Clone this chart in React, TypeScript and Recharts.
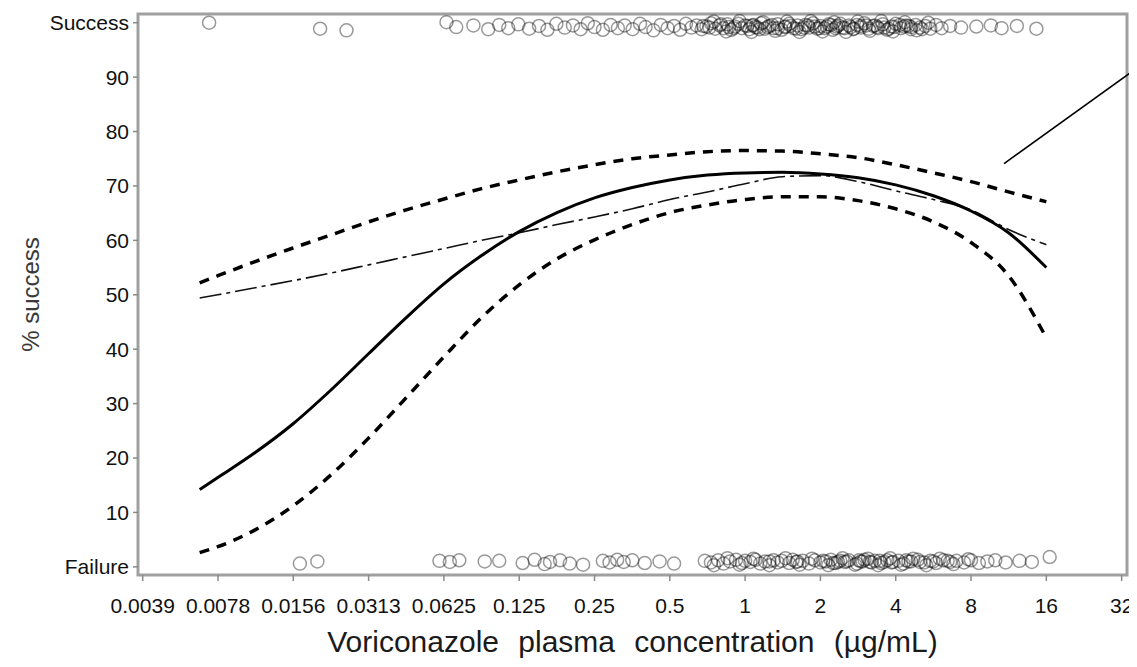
import React from 'react';
import {
  ComposedChart,
  Line,
  Scatter,
  XAxis,
  YAxis,
  ReferenceArea,
  ReferenceLine,
} from 'recharts';

// Concentration axis (log2 spacing) tick values and their printed labels
const xTickValues = [
  0.00390625, 0.0078125, 0.015625, 0.03125, 0.0625, 0.125, 0.25, 0.5, 1, 2, 4, 8, 16, 32,
];
const xTickLabels = [
  '0.0039', '0.0078', '0.0156', '0.0313', '0.0625', '0.125', '0.25', '0.5', '1', '2', '4', '8', '16', '32',
];
const yTickValues = [0, 10, 20, 30, 40, 50, 60, 70, 80, 90, 100];

// Concentrations at which the fitted curves are evaluated (µg/mL)
const curveConc = [
  0.0066, 0.0078, 0.011, 0.0156, 0.0221, 0.0313, 0.0442, 0.0625, 0.0884, 0.125, 0.177, 0.25,
  0.354, 0.5, 0.707, 1, 1.41, 2, 2.83, 4, 5.66, 8, 11.3, 16,
];
// Fitted probability of success (%)
const fitPct = [
  14.2, 16.4, 21.0, 26.3, 32.5, 39.2, 45.8, 52.0, 57.2, 61.6, 65.1, 67.8,
  69.7, 71.1, 72.0, 72.4, 72.5, 72.2, 71.5, 70.2, 68.2, 65.4, 61.4, 55.0,
];
// Upper and lower confidence bounds (%)
const upperPct = [
  52.2, 53.5, 56.1, 58.6, 61.0, 63.4, 65.6, 67.6, 69.5, 71.1, 72.6, 73.9,
  75.0, 75.7, 76.3, 76.5, 76.4, 75.9, 75.2, 73.9, 72.4, 70.8, 68.9, 67.1,
];
const lowerPct = [
  2.6, 3.7, 6.8, 11.2, 16.9, 23.7, 31.1, 38.6, 45.8, 51.8, 56.6, 60.1,
  62.9, 65.1, 66.5, 67.5, 68.0, 68.0, 67.3, 65.8, 63.4, 59.6, 53.5, 42.1,
];
// Alternative (piecewise) fit (%)
const altPct = [
  49.4, 50.0, 51.3, 52.6, 54.0, 55.5, 57.0, 58.5, 60.0, 61.4, 62.9, 64.3,
  65.8, 67.5, 68.9, 70.4, 71.7, 71.9, 70.8, 69.1, 67.5, 65.6, 62.0, 59.2,
];

// Individual patient outcomes: [concentration, jittered outcome position]
const successPts: [number, number][] = [
  [0.0072, 100.0], [0.020, 98.9], [0.0255, 98.6],
  [0.064, 100.1], [0.070, 99.2], [0.082, 99.5], [0.094, 98.8], [0.104, 99.6], [0.113, 99.0],
  [0.124, 99.7], [0.137, 98.9], [0.150, 99.4], [0.162, 98.7], [0.176, 99.8], [0.19, 99.1],
  [0.205, 99.5], [0.22, 98.8], [0.235, 99.9], [0.25, 99.2], [0.27, 98.7], [0.29, 99.6],
  [0.31, 99.0], [0.33, 99.5], [0.355, 98.8], [0.38, 99.8], [0.40, 99.2], [0.43, 98.6],
  [0.46, 99.6], [0.49, 99.0], [0.52, 99.4], [0.55, 98.7], [0.58, 99.8], [0.61, 99.1],
  [0.64, 99.5], [0.67, 98.8], [0.70, 99.3], [0.73, 99.9], [0.76, 98.9], [0.79, 99.5],
  [0.82, 99.0], [0.85, 99.7], [0.88, 98.7], [0.91, 99.3], [0.94, 99.8], [0.97, 99.0],
  [1.0, 99.5], [1.04, 98.8], [1.08, 99.6], [1.12, 99.1], [1.16, 99.9], [1.2, 98.9],
  [1.25, 99.4], [1.3, 99.0], [1.35, 99.7], [1.4, 98.7], [1.45, 99.3], [1.5, 99.8],
  [1.56, 99.0], [1.62, 99.5], [1.68, 98.8], [1.74, 99.6], [1.8, 99.1], [1.87, 99.9],
  [1.94, 98.9], [2.0, 99.4], [2.08, 99.0], [2.16, 99.7], [2.24, 98.7], [2.32, 99.3],
  [2.4, 99.8], [2.5, 99.0], [2.6, 99.5], [2.7, 98.8], [2.8, 99.6], [2.9, 99.1], [3.0, 99.9],
  [3.12, 98.9], [3.25, 99.4], [3.4, 99.0], [3.55, 99.7], [3.7, 98.7], [3.85, 99.3],
  [4.0, 99.8], [4.2, 99.0], [4.4, 99.5], [4.6, 98.8], [4.8, 99.6], [5.0, 99.1], [5.25, 99.4],
  [5.5, 98.9], [5.8, 99.6], [6.1, 99.0], [6.6, 99.4], [7.3, 99.1], [8.4, 99.3], [9.6, 99.5],
  [10.6, 99.0], [12.2, 99.4], [14.6, 98.9],
  [0.72, 99.1], [0.8, 99.7], [0.9, 99.0], [1.02, 99.4], [1.14, 98.8], [1.28, 99.6],
  [1.44, 99.2], [1.6, 98.9], [1.78, 99.5], [1.98, 99.0], [2.2, 99.6], [2.45, 99.1],
  [2.72, 98.9], [3.05, 99.5], [3.38, 99.2], [3.75, 98.9], [4.15, 99.6], [4.6, 99.2],
  [5.1, 98.8], [1.1, 99.2], [1.35, 99.0], [1.9, 99.3], [2.3, 99.0], [2.9, 99.4], [3.6, 99.1],
  [4.3, 99.3],
  [0.75, 100.2], [0.84, 98.4], [0.95, 100.3], [1.06, 98.3], [1.18, 100.1], [1.32, 98.5],
  [1.47, 100.2], [1.65, 98.3], [1.83, 100.3], [2.04, 98.4], [2.27, 100.1], [2.53, 98.3],
  [2.82, 100.2], [3.15, 98.5], [3.5, 100.3], [3.9, 98.4], [4.35, 100.1], [4.85, 98.6],
  [5.4, 100.0], [0.68, 99.4], [0.86, 99.2], [1.07, 99.5], [1.23, 99.2], [1.52, 99.4],
  [1.72, 99.1], [2.12, 99.3], [2.36, 99.5], [2.64, 99.2], [3.3, 99.5], [3.95, 99.2],
  [4.5, 99.4],
];
const failurePts: [number, number][] = [
  [0.0166, 0.6], [0.0195, 1.0],
  [0.060, 1.1], [0.066, 0.9], [0.072, 1.2], [0.091, 1.0], [0.104, 1.1],
  [0.129, 0.7], [0.144, 1.3], [0.158, 0.5], [0.166, 0.9], [0.182, 1.2], [0.199, 0.6],
  [0.225, 0.4], [0.27, 1.1], [0.287, 0.8], [0.308, 1.3], [0.327, 0.9], [0.354, 1.2],
  [0.397, 0.7], [0.455, 1.0], [0.52, 0.6],
  [0.69, 1.1], [0.73, 0.8], [0.78, 1.2], [0.82, 0.6], [0.87, 1.0], [0.92, 1.3], [0.97, 0.7],
  [1.0, 1.1], [1.05, 0.9], [1.1, 1.3], [1.15, 0.6], [1.2, 1.0], [1.3, 1.2], [1.35, 0.8],
  [1.4, 1.1], [1.5, 0.7], [1.55, 1.3], [1.6, 0.9], [1.7, 1.1], [1.8, 0.6], [1.9, 1.2],
  [2.0, 0.8], [2.1, 1.0], [2.2, 1.3], [2.3, 0.7], [2.4, 1.1], [2.5, 0.9], [2.6, 1.2],
  [2.8, 0.6], [2.9, 1.0], [3.0, 1.3], [3.2, 0.8], [3.3, 1.1], [3.5, 0.7], [3.7, 1.2],
  [3.9, 0.9], [4.1, 1.1], [4.3, 0.6], [4.6, 1.0], [4.9, 1.3], [5.2, 0.8], [5.5, 1.1],
  [5.8, 0.7], [6.2, 1.2], [6.6, 0.9], [7.0, 1.1], [7.5, 0.8], [8.0, 1.2], [8.6, 0.7],
  [9.3, 1.0], [10.0, 1.2], [11.0, 0.8], [12.5, 1.1], [14.0, 0.9], [16.5, 1.8],
  [2.05, 1.1], [2.25, 0.7], [2.55, 1.0], [2.85, 1.2], [3.15, 0.9], [3.45, 1.1], [3.85, 0.8],
  [4.4, 1.2], [5.0, 0.9], [5.65, 1.0], [6.45, 1.1],
  [0.75, 0.3], [0.85, 1.6], [0.95, 0.4], [1.08, 1.5], [1.25, 0.3], [1.45, 1.6], [1.65, 0.4],
  [1.85, 1.5], [2.15, 0.3], [2.45, 1.6], [2.75, 0.4], [3.1, 1.5], [3.4, 0.3], [3.8, 1.6],
  [4.2, 0.4], [4.7, 1.5], [5.3, 0.3], [6.0, 1.5], [6.8, 0.5], [7.8, 1.4], [1.25, 1.0],
  [1.62, 1.0], [2.35, 0.9], [2.95, 1.0], [3.6, 0.9], [4.5, 1.0],
];

const X_DOMAIN: [number, number] = [0.003741, 33.62];
const Y_DOMAIN: [number, number] = [-1.5, 101.6];

const curveRows = curveConc.map((c, i) => ({
  c,
  fit: fitPct[i],
  upper: upperPct[i],
  lower: lowerPct[i],
  alt: altPct[i],
}));
const successRows = successPts.map(([c, y]) => ({ c, y }));
const failureRows = failurePts.map(([c, y]) => ({ c, y }));

const FONT = '"Liberation Sans", Arial, Helvetica, sans-serif';
const BOX = '#a0a0a0';

const OpenCircle = (props: any) => {
  const { cx, cy } = props;
  if (cx == null || cy == null) return null;
  return (
    <circle
      cx={cx}
      cy={cy}
      r={6.5}
      fill="none"
      stroke="#000"
      strokeOpacity={0.4}
      strokeWidth={1.5}
    />
  );
};

const xTickFormat = (v: number) => {
  const i = xTickValues.findIndex((t) => Math.abs(t - v) / t < 1e-6);
  return i >= 0 ? xTickLabels[i] : '';
};
const yTickFormat = (v: number) => (v === 0 ? 'Failure' : v === 100 ? 'Success' : String(v));

const XTitle = (props: any) => {
  const vb = props.viewBox || {};
  return (
    <text
      x={vb.x + vb.width / 2}
      y={vb.y + 77}
      textAnchor="middle"
      fontFamily={FONT}
      fontSize={30}
      fill="#1a1a1a"
      style={{ wordSpacing: '11px' }}
    >
      Voriconazole plasma concentration (µg/mL)
    </text>
  );
};

const YTitle = (props: any) => {
  const vb = props.viewBox || {};
  const cx = 31;
  const cy = vb.y + vb.height / 2;
  return (
    <text
      x={cx}
      y={cy}
      textAnchor="middle"
      fontFamily={FONT}
      fontSize={24}
      fill="#3a3a3a"
      transform={`rotate(-90 ${cx} ${cy})`}
    >
      % success
    </text>
  );
};

export default function App() {
  return (
    <div style={{ width: 1129, height: 659, background: '#fff' }}>
      <ComposedChart
        width={1129}
        height={659}
        data={curveRows}
        margin={{ top: 6, right: 10, bottom: 0, left: 0 }}
      >
        <XAxis
          dataKey="c"
          type="number"
          scale="log"
          domain={X_DOMAIN}
          allowDataOverflow
          ticks={xTickValues}
          tickFormatter={xTickFormat}
          interval={0}
          height={92}
          axisLine={false}
          tickLine={{ stroke: '#8a8a8a', strokeWidth: 1.5 }}
          tickSize={6}
          tickMargin={17}
          tick={{ fontFamily: FONT, fontSize: 21, fill: '#111' }}
          label={<XTitle />}
        />
        <YAxis
          type="number"
          domain={Y_DOMAIN}
          allowDataOverflow
          ticks={yTickValues}
          tickFormatter={yTickFormat}
          interval={0}
          width={130}
          axisLine={false}
          tickLine={{ stroke: '#8a8a8a', strokeWidth: 1.5 }}
          tickSize={5}
          tickMargin={4}
          tick={{ fontFamily: FONT, fontSize: 21, fill: '#111' }}
          label={<YTitle />}
        />
        <ReferenceArea
          x1={X_DOMAIN[0]}
          x2={X_DOMAIN[1]}
          y1={Y_DOMAIN[0]}
          y2={Y_DOMAIN[1]}
          fill="none"
          stroke={BOX}
          strokeWidth={3}
          ifOverflow="visible"
        />
        <Scatter
          data={successRows}
          dataKey="y"
          shape={OpenCircle}
          isAnimationActive={false}
        />
        <Scatter
          data={failureRows}
          dataKey="y"
          shape={OpenCircle}
          isAnimationActive={false}
        />
        <Line
          dataKey="upper"
          type="monotone"
          stroke="#000"
          strokeWidth={3.5}
          strokeDasharray="10 8"
          dot={false}
          activeDot={false}
          isAnimationActive={false}
        />
        <Line
          dataKey="lower"
          type="monotone"
          stroke="#000"
          strokeWidth={3.5}
          strokeDasharray="10 8"
          dot={false}
          activeDot={false}
          isAnimationActive={false}
        />
        <Line
          dataKey="alt"
          type="monotone"
          stroke="#111"
          strokeWidth={1.6}
          strokeDasharray="22 5 4 5"
          dot={false}
          activeDot={false}
          isAnimationActive={false}
        />
        <Line
          dataKey="fit"
          type="monotone"
          stroke="#000"
          strokeWidth={3}
          dot={false}
          activeDot={false}
          isAnimationActive={false}
        />
        <ReferenceLine
          segment={[
            { x: 10.84, y: 74.1 },
            { x: 36.9, y: 91.7 },
          ]}
          stroke="#000"
          strokeWidth={1.6}
          ifOverflow="visible"
        />
      </ComposedChart>
    </div>
  );
}
